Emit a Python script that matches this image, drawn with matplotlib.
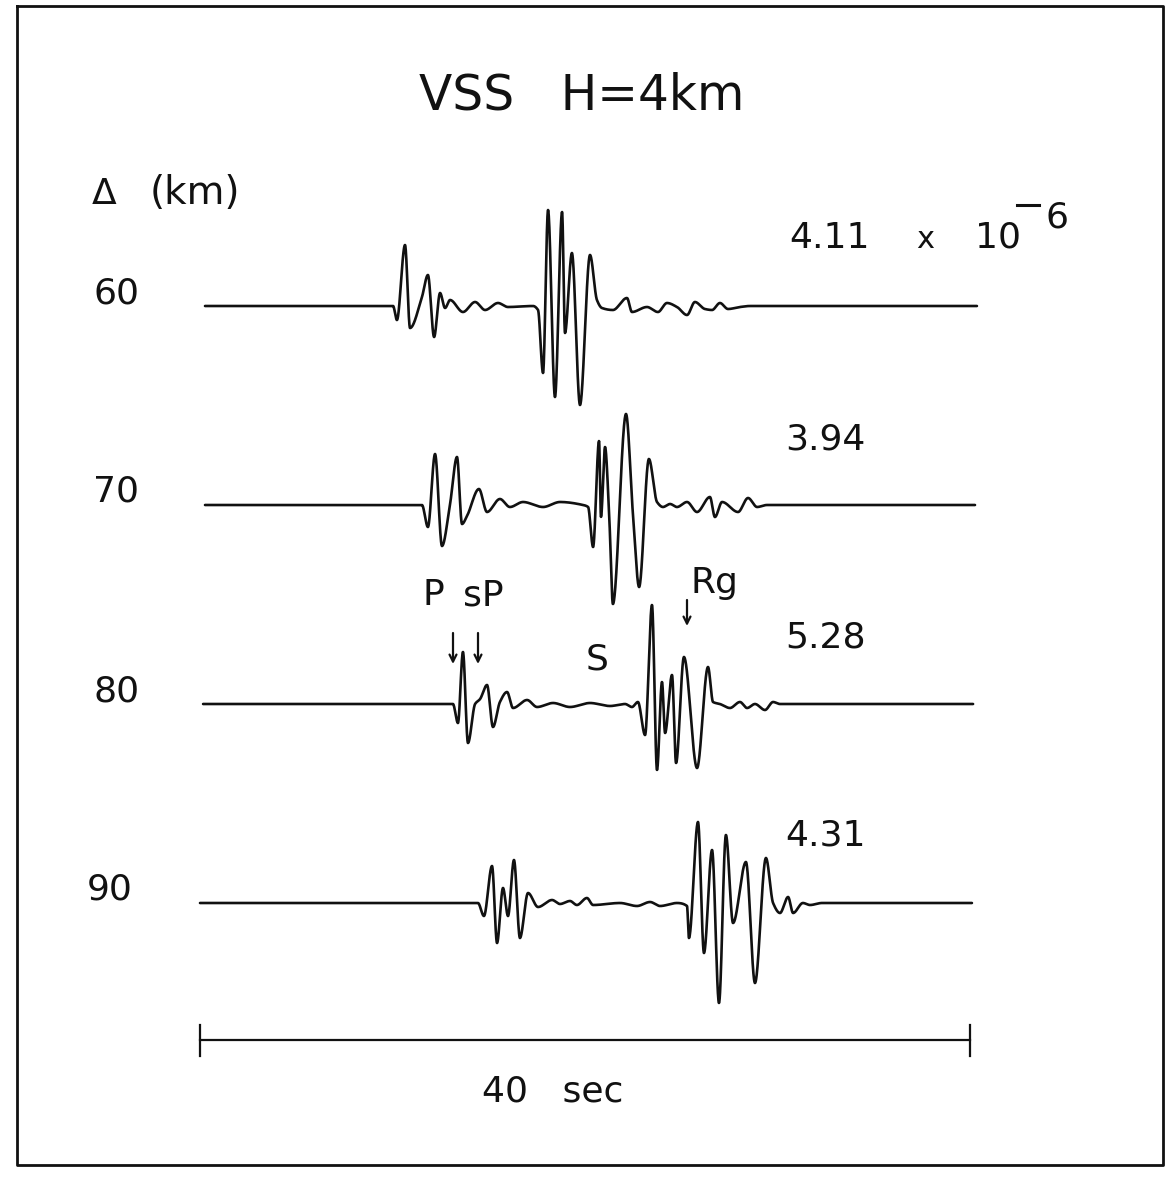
import matplotlib
matplotlib.use("Agg")
import matplotlib.pyplot as plt
import numpy as np

# ---------------- data ----------------
distances = [60, 70, 80, 90]                      # epicentral distance (km)
peak_amps = ["4.11", "3.94", "5.28", "4.31"]      # peak amplitude labels

# time (s) and normalized amplitude of each trace (breakpoints)
t60 = [0.26, 10.03, 10.23, 10.65, 10.91, 11.53, 11.84, 12.16, 12.47, 12.73, 12.99, 13.66,
       14.29, 14.81, 15.48, 16.00, 17.30, 17.56, 17.82, 18.08, 18.44, 18.81, 18.96, 19.32,
       19.74, 20.26, 20.62, 20.88, 21.45, 22.18, 22.44, 23.22, 23.79, 24.26, 24.78, 25.30,
       25.71, 26.23, 26.60, 27.01, 27.43, 28.05, 28.57, 40.36]
a60 = [0, 0, -0.14, 0.61, -0.22, 0.09, 0.31, -0.31, 0.13, -0.02, 0.06, -0.06,
       0.04, -0.04, 0.03, -0.01, 0, -0.04, -0.67, 0.96, -0.91, 0.94, -0.27, 0.53,
       -0.99, 0.51, 0.06, -0.02, -0.04, 0.08, -0.06, -0.01, -0.06, 0.03, -0.01, -0.09,
       0.04, -0.03, -0.04, 0.03, -0.03, -0.01, 0, 0]

t70 = [0.26, 11.53, 11.84, 12.21, 12.57, 12.99, 13.35, 13.61, 13.87, 14.49, 14.91, 15.58,
       16.10, 16.78, 17.82, 18.70, 19.90, 20.16, 20.42, 20.73, 20.83, 21.04, 21.25, 21.45,
       22.13, 22.49, 22.81, 23.32, 23.74, 24.05, 24.42, 24.78, 25.30, 25.82, 26.49, 26.75,
       27.12, 27.95, 28.47, 28.94, 29.45, 40.26]
a70 = [0, 0, -0.22, 0.51, -0.41, 0.01, 0.48, -0.19, -0.11, 0.16, -0.07, 0.06,
       -0.02, 0.03, -0.02, 0.03, 0, -0.02, -0.42, 0.64, -0.12, 0.58, -0.07, -0.99,
       0.91, -0.09, -0.82, 0.46, 0.03, -0.02, 0.01, -0.02, 0.03, -0.07, 0.08, -0.12,
       0.03, -0.07, 0.07, -0.02, 0, 0]

t80 = [0.16, 13.14, 13.40, 13.66, 13.92, 14.29, 14.55, 14.91, 15.22, 15.58, 15.95, 16.26,
       16.99, 17.51, 18.34, 19.22, 20.26, 21.30, 22.08, 22.44, 22.75, 23.12, 23.48, 23.74,
       24.00, 24.16, 24.52, 24.73, 25.14, 25.82, 26.39, 26.65, 27.01, 27.53, 28.05, 28.42,
       28.83, 29.35, 29.77, 30.13, 40.16]
a80 = [0, 0, -0.19, 0.52, -0.39, 0, 0.05, 0.19, -0.23, 0.02, 0.12, -0.04,
       0.04, -0.03, 0.01, -0.03, 0.01, -0.02, 0, -0.03, 0.02, -0.31, 0.99, -0.66,
       0.22, -0.29, 0.29, -0.59, 0.47, -0.64, 0.37, 0.02, 0, -0.04, 0.02, -0.04,
       0, -0.06, 0.02, 0, 0]

t90 = [0.0, 14.44, 14.75, 15.17, 15.43, 15.74, 16.00, 16.31, 16.62, 17.04, 17.56, 18.29,
       18.70, 19.22, 19.58, 20.10, 20.42, 21.82, 22.70, 23.38, 23.90, 24.78, 25.30, 25.40,
       25.87, 26.18, 26.60, 26.96, 27.32, 27.69, 28.36, 28.83, 29.40, 29.77, 30.13, 30.55,
       30.81, 31.32, 31.69, 32.31, 40.10]
a90 = [0, 0, -0.13, 0.37, -0.40, 0.15, -0.13, 0.43, -0.35, 0.10, -0.04, 0.03,
       -0.01, 0.02, -0.02, 0.05, -0.02, 0, -0.03, 0.01, -0.03, 0, -0.03, -0.35,
       0.81, -0.50, 0.53, -1.00, 0.68, -0.20, 0.41, -0.80, 0.45, 0, -0.10, 0.06,
       -0.10, 0, -0.02, 0, 0]

times = [t60, t70, t80, t90]
amps = [a60, a70, a80, a90]

scale_seconds = 40


def pchip(x, y, xs):
    """Monotone cubic (Fritsch-Carlson) drawing of a polyline through the points."""
    x = np.asarray(x, float)
    y = np.asarray(y, float)
    h = np.diff(x)
    delta = np.diff(y) / h
    n = len(x)
    d = np.zeros(n)
    for k in range(1, n - 1):
        if delta[k - 1] * delta[k] > 0:
            w1 = 2 * h[k] + h[k - 1]
            w2 = h[k] + 2 * h[k - 1]
            d[k] = (w1 + w2) / (w1 / delta[k - 1] + w2 / delta[k])
    idx = np.clip(np.searchsorted(x, xs) - 1, 0, n - 2)
    hk = h[idx]
    s = (xs - x[idx]) / hk
    h00 = 2 * s**3 - 3 * s**2 + 1
    h10 = s**3 - 2 * s**2 + s
    h01 = -2 * s**3 + 3 * s**2
    h11 = s**3 - s**2
    return h00 * y[idx] + h10 * hk * d[idx] + h01 * y[idx + 1] + h11 * hk * d[idx + 1]


# ---------------- layout ----------------
W, H = 1172, 1197
DPI = 100
px_per_s = 19.25
t0_px = 200
base0, spacing = 306, 199
amp_px = 100

fig = plt.figure(figsize=(W / DPI, H / DPI), dpi=DPI)
fig.patch.set_facecolor("white")

# data axes: x in seconds, y in pixel rows
ax = fig.add_axes([0, 0, 1, 1])
ax.set_xlim(-t0_px / px_per_s, (W - t0_px) / px_per_s)
ax.set_ylim(H, 0)
ax.axis("off")

# overlay axes for text / frame in pixel units
tx = fig.add_axes([0, 0, 1, 1], facecolor="none")
tx.set_xlim(0, W)
tx.set_ylim(H, 0)
tx.axis("off")

col = "#111111"
fs_lab = 26

for i, (t, a) in enumerate(zip(times, amps)):
    base = base0 + spacing * i
    ts = np.linspace(t[0], t[-1], 4000)
    y = base - pchip(t, a, ts) * amp_px
    ax.plot(ts, y, color=col, lw=1.9, solid_joinstyle="round", solid_capstyle="round")
    tx.text(93 if i < 3 else 87, base - 3, str(distances[i]), fontsize=fs_lab,
            color=col, ha="left", va="baseline")

# amplitude labels
amp_pos = [(789, 248), (785, 450), (785, 648), (785, 846)]
for lab, (x, yb) in zip(peak_amps, amp_pos):
    tx.text(x, yb, lab, fontsize=fs_lab, color=col, ha="left", va="baseline")
tx.text(916, 248, "x", fontsize=22, color=col, ha="left", va="baseline")
tx.text(975, 248, "10", fontsize=fs_lab, color=col, ha="left", va="baseline")
tx.plot([1017, 1039], [205, 205], color=col, lw=2.2)
tx.text(1046, 227, "6", fontsize=fs_lab, color=col, ha="left", va="baseline")

# title and axis label
tx.text(582, 110, "VSS   H=4km", fontsize=35, color=col, ha="center", va="baseline")
tx.text(92, 204, "Δ", fontsize=fs_lab, color=col, ha="left", va="baseline")
tx.text(150, 204, "(km)", fontsize=fs_lab + 2, color=col, ha="left", va="baseline")

# phase annotations
tx.text(423, 605, "P", fontsize=fs_lab, color=col, ha="left", va="baseline")
tx.text(463, 605, "sP", fontsize=fs_lab, color=col, ha="left", va="baseline")
tx.text(586, 670, "S", fontsize=fs_lab, color=col, ha="left", va="baseline")
tx.text(690, 593, "Rg", fontsize=fs_lab, color=col, ha="left", va="baseline")
for xa, y1, y2 in [(453, 633, 664), (478, 633, 664), (687, 600, 626)]:
    tx.annotate("", xy=(xa, y2), xytext=(xa, y1),
                arrowprops=dict(arrowstyle="->,head_length=0.5,head_width=0.25",
                                color=col, lw=1.6, shrinkA=0, shrinkB=0))

# time scale bar
ybar = 1040
ax.plot([0, scale_seconds], [ybar, ybar], color=col, lw=1.6)
ax.plot([0, 0], [1025, 1056], color=col, lw=1.6)
ax.plot([scale_seconds, scale_seconds], [1025, 1056], color=col, lw=1.6)
tx.text(553, 1102, f"{scale_seconds}   sec", fontsize=fs_lab, color=col, ha="center", va="baseline")

# frame
tx.plot([17, 1163, 1163, 17, 17], [6, 6, 1165, 1165, 6], color=col, lw=2.0)

fig.savefig("out.png", dpi=DPI, facecolor="white")
